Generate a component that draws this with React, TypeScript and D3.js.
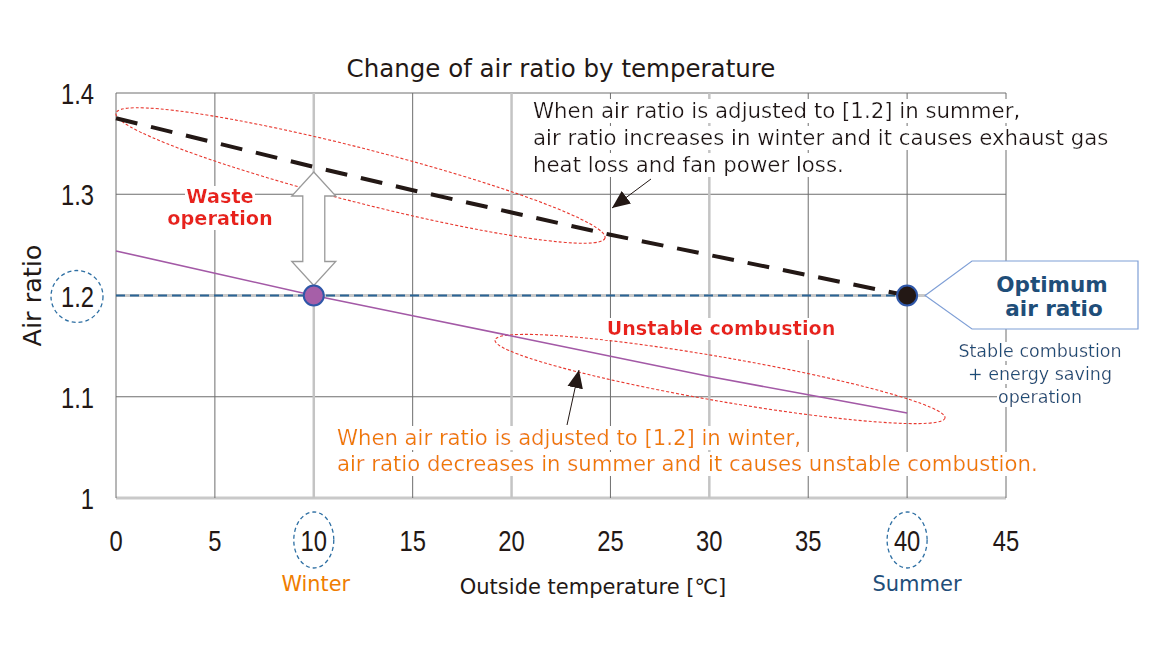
import React from "react";
import * as d3 from "d3";

const temps = [0, 5, 10, 15, 20, 25, 30, 35, 40];
const summerAdjusted = [1.375, 1.351, 1.327, 1.304, 1.282, 1.26, 1.24, 1.22, 1.2];
const winterAdjusted = [1.244, 1.222, 1.2, 1.18, 1.16, 1.14, 1.12, 1.102, 1.084];
const optimumRatio = 1.2;
const winterTemp = 10;
const summerTemp = 40;
const xTicks = [0, 5, 10, 15, 20, 25, 30, 35, 40, 45];
const yTicks = [1, 1.1, 1.2, 1.3, 1.4];
const lightXGrid = [10, 20, 30];
const lightYGrid = [1, 1.2];

const W = 1161;
const H = 653;
const FONT = "'DejaVu Sans', Verdana, sans-serif";
const NUMF = "'Liberation Sans', Arial, sans-serif";
const DARK = "#231815";
const RED = "#e8231c";
const ORANGE = "#ef7d00";
const NAVY = "#1f4e79";

export default function App() {
  const x = d3.scaleLinear().domain([0, 45]).range([116, 1006]);
  const y = d3.scaleLinear().domain([1.0, 1.4]).range([498, 93]);

  const line = d3
    .line<number>()
    .x((_, i) => x(temps[i]))
    .y((d) => y(d));

  const x10 = x(winterTemp);
  const x40 = x(summerTemp);
  const y12 = y(optimumRatio);

  // double arrow geometry
  const aTop = y(1.322);
  const aBot = y(1.2) - 10;
  const headH = 24;
  const shaftW = 11;
  const headW = 22;
  const arrowPath = [
    [x10, aTop],
    [x10 + headW, aTop + headH],
    [x10 + shaftW, aTop + headH],
    [x10 + shaftW, aBot - headH],
    [x10 + headW, aBot - headH],
    [x10, aBot],
    [x10 - headW, aBot - headH],
    [x10 - shaftW, aBot - headH],
    [x10 - shaftW, aTop + headH],
    [x10 - headW, aTop + headH],
  ]
    .map((p, i) => (i === 0 ? "M" : "L") + p[0] + "," + p[1])
    .join(" ") + "Z";

  const ellipse = (x1: number, y1: number, x2: number, y2: number, ry: number, key: string) => {
    const cx = (x1 + x2) / 2;
    const cy = (y1 + y2) / 2;
    const rx = Math.hypot(x2 - x1, y2 - y1) / 2;
    const ang = (Math.atan2(y2 - y1, x2 - x1) * 180) / Math.PI;
    return (
      <ellipse
        key={key}
        cx={cx}
        cy={cy}
        rx={rx}
        ry={ry}
        transform={`rotate(${ang},${cx},${cy})`}
        fill="none"
        stroke="#e8382f"
        strokeWidth={1.1}
        strokeDasharray="3 2"
      />
    );
  };

  const num = (tx: number, ty: number, label: string, anchor: string, key: string) => (
    <text
      key={key}
      transform={`translate(${tx},${ty}) scale(0.82,1)`}
      textAnchor={anchor}
      fontFamily={NUMF}
      fontSize={29}
      fill={DARK}
    >
      {label}
    </text>
  );

  return (
    <svg
      width={W}
      height={H}
      style={{ position: "absolute", left: 0, top: 0, background: "#fff" }}
    >
      <defs>
        <filter id="bg" x="-0.01" y="0.05" width="1.02" height="0.95">
          <feFlood floodColor="#ffffff" />
          <feComposite in="SourceGraphic" operator="over" />
        </filter>
        <marker id="ah2" viewBox="0 0 16 14" refX="16" refY="7" markerWidth="18" markerHeight="16" markerUnits="userSpaceOnUse" orient="auto">
          <path d="M0,0 L16,7 L0,14 Z" fill={DARK} />
        </marker>
      </defs>

      {/* title */}
      <text x={561} y={77} textAnchor="middle" fontFamily={FONT} fontSize={24.5} fill={DARK}>
        Change of air ratio by temperature
      </text>

      {/* grid */}
      {yTicks.map((v) => (
        <line
          key={"hy" + v}
          x1={x(0)}
          x2={x(45)}
          y1={y(v)}
          y2={y(v)}
          stroke={lightYGrid.includes(v) ? "#c9c9c9" : "#6e6e6e"}
          strokeWidth={lightYGrid.includes(v) ? 3 : 1}
        />
      ))}
      {xTicks.map((v) => (
        <line
          key={"vx" + v}
          x1={x(v)}
          x2={x(v)}
          y1={y(1.4)}
          y2={y(1.0)}
          stroke={lightXGrid.includes(v) ? "#c4c4c4" : "#6e6e6e"}
          strokeWidth={lightXGrid.includes(v) ? 2.5 : 1}
        />
      ))}

      {/* y tick labels */}
      {yTicks.map((v) => num(94, y(v) + 11, String(+v.toFixed(1)), "end", "ty" + v))}
      <circle cx={77} cy={y12 + 1} r={26} fill="none" stroke="#2e6fa3" strokeWidth={1.3} strokeDasharray="4 3" />

      {/* x tick labels */}
      {xTicks.map((v) => num(x(v), 551, String(v), "middle", "tx" + v))}
      <ellipse cx={x10} cy={540} rx={20} ry={28} fill="none" stroke="#2e6fa3" strokeWidth={1.3} strokeDasharray="4 3" />
      <ellipse cx={x40} cy={540} rx={20} ry={28} fill="none" stroke="#2e6fa3" strokeWidth={1.3} strokeDasharray="4 3" />

      <text x={x10 + 2} y={591} textAnchor="middle" fontFamily={FONT} fontSize={20.8} fill={ORANGE}>Winter</text>
      <text x={917} y={591} textAnchor="middle" fontFamily={FONT} fontSize={21} fill={NAVY}>Summer</text>
      <text x={593} y={594} textAnchor="middle" fontFamily={FONT} fontSize={21} fill={DARK}>
        Outside temperature [℃]
      </text>
      <text transform={`translate(41,${y12}) rotate(-90)`} textAnchor="middle" fontFamily={FONT} fontSize={25.5} fill={DARK}>
        Air ratio
      </text>

      {/* ellipses */}
      {ellipse(116, 113, 605, 238, 27, "e1")}
      {ellipse(495, 340, 945, 418, 22, "e2")}

      {/* optimum level */}
      <line x1={x(0)} x2={x40} y1={y12} y2={y12} stroke="#2b6596" strokeWidth={2} strokeDasharray="9 5" />

      {/* series */}
      <path d={line(winterAdjusted) || ""} fill="none" stroke="#a359a6" strokeWidth={1.6} />
      <path d={line(summerAdjusted) || ""} fill="none" stroke={DARK} strokeWidth={4} strokeDasharray="22 14" />

      {/* double arrow */}
      <path d={arrowPath} fill="#ffffff" stroke="#9a9a9a" strokeWidth={1.3} />

      {/* markers */}
      <circle cx={x10} cy={y12} r={10} fill="#a65fa8" stroke="#2f57a8" strokeWidth={2} />
      <circle cx={x40} cy={y12} r={10} fill={DARK} stroke="#2f57a8" strokeWidth={2} />

      {/* labels */}
      <g fontFamily={FONT} fontSize={19.3} fontWeight="bold" fill={RED} textAnchor="middle">
        <text x={220} y={203} filter="url(#bg)">Waste</text>
        <text x={220} y={225} filter="url(#bg)">operation</text>
      </g>
      <text x={721} y={335} fontFamily={FONT} fontSize={19.2} fontWeight="bold" fill={RED} textAnchor="middle" filter="url(#bg)">
        Unstable combustion
      </text>

      <g fontFamily={FONT} fontSize={21.3} fill={DARK}>
        <text x={533} y={118} filter="url(#bg)">When air ratio is adjusted to [1.2] in summer,</text>
        <text x={533} y={145} filter="url(#bg)">air ratio increases in winter and it causes exhaust gas</text>
        <text x={533} y={172} filter="url(#bg)">heat loss and fan power loss.</text>
      </g>
      <line x1={651} y1={179} x2={612} y2={208} stroke={DARK} strokeWidth={1} markerEnd="url(#ah2)" />

      <g fontFamily={FONT} fontSize={21.2} fill={ORANGE}>
        <text x={337} y={445} filter="url(#bg)">When air ratio is adjusted to [1.2] in winter,</text>
        <text x={337} y={471} filter="url(#bg)">air ratio decreases in summer and it causes unstable combustion.</text>
      </g>
      <line x1={567} y1={425} x2={579} y2={370} stroke={DARK} strokeWidth={1} markerEnd="url(#ah2)" />

      {/* callout */}
      <path
        d={`M${x40 + 18},${y12} L972,261 L1138,261 L1138,329 L972,329 Z`}
        fill="#ffffff"
        stroke="#7f9fd6"
        strokeWidth={1.2}
      />
      <g fontFamily={FONT} fontSize={21.5} fontWeight="bold" fill={NAVY} textAnchor="middle">
        <text x={1052} y={292}>Optimum</text>
        <text x={1054} y={316}>air ratio</text>
      </g>
      <g fontFamily={FONT} fontSize={17.5} fill={NAVY} textAnchor="middle">
        <text x={1040} y={357} filter="url(#bg)">Stable combustion</text>
        <text x={1040} y={380} filter="url(#bg)">+ energy saving</text>
        <text x={1040} y={403} filter="url(#bg)">operation</text>
      </g>
    </svg>
  );
}
